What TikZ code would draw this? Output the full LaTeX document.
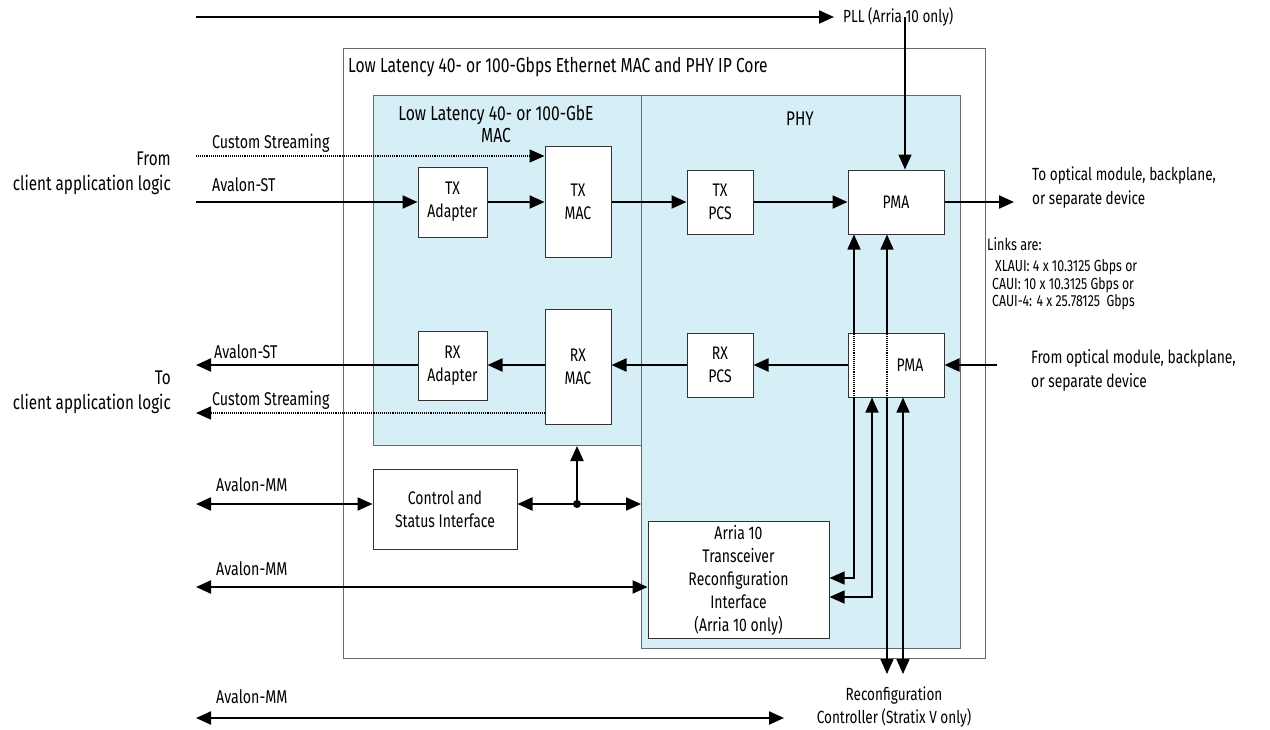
\documentclass[tikz,border=0pt]{standalone}
\usepackage{fontspec}
\setmainfont[FakeStretch=0.77]{Fira Sans}
\usetikzlibrary{arrows.meta,calc}
\definecolor{phyblue}{HTML}{D6EEF5}
\definecolor{edgegray}{HTML}{6A6A6A}
\begin{document}
\begin{tikzpicture}[x=1pt,y=-1pt,
  font=\fontsize{18.2}{23}\selectfont,
  region/.style={draw=edgegray, line width=1pt, inner sep=0pt, anchor=north west},
  box/.style={draw=black!80, line width=1pt, fill=white, inner sep=0pt, align=center},
  lbl/.style={inner sep=0pt},
  sig/.style={inner sep=0pt, anchor=west, font=\fontsize{18.5}{20}\selectfont},
  arr/.style={line width=2.2pt, -{Triangle[length=15pt,width=13pt]}},
  arrboth/.style={line width=2.2pt, {Triangle[length=15pt,width=13pt]}-{Triangle[length=15pt,width=13pt]}},
  tarr/.style={line width=1.5pt, -{Triangle[length=15pt,width=13pt]}},
  tarrboth/.style={line width=1.5pt, {Triangle[length=15pt,width=13pt]}-{Triangle[length=15pt,width=13pt]}},
  dotarr/.style={line width=1.3pt, dash pattern=on 1pt off 0.9pt, -{Triangle[length=15pt,width=13pt]}},
  dotseg/.style={line width=1.2pt, dash pattern=on 1pt off 0.9pt}
]
\useasboundingbox (0,0) rectangle (1270,729);

% regions
\node[region, minimum width=642pt, minimum height=610pt] (outer) at (343,48) {};
\node[region, fill=phyblue, minimum width=319pt, minimum height=553pt] (phyreg) at (641,95) {};
\node[region, fill=phyblue, minimum width=268pt, minimum height=350pt] (macreg) at (373,95) {};

\node[lbl, anchor=west, font=\fontsize{20.3}{22}\selectfont] (title) at (348,67) {Low Latency 40- or 100-Gbps Ethernet MAC and PHY IP Core};
\node[lbl, align=center, font=\fontsize{20.3}{22}\selectfont] (maclbl) at (496,124) {Low Latency 40- or 100-GbE\\MAC};
\node[lbl, font=\fontsize{19.8}{22}\selectfont] (phylbl) at (800,119) {PHY};

% blocks
\node[box, minimum width=69pt, minimum height=70pt] (txad) at (452.5,202) {TX\\Adapter};
\node[box, minimum width=66pt, minimum height=111pt] (txmac) at (578,201.5) {TX\\MAC};
\node[box, minimum width=66pt, minimum height=64pt] (txpcs) at (720,202) {TX\\PCS};
\node[box, minimum width=96pt, minimum height=64pt] (pmat) at (896,202) {PMA};
\node[box, minimum width=69pt, minimum height=69pt] (rxad) at (452.5,365.5) {RX\\Adapter};
\node[box, minimum width=66pt, minimum height=115pt] (rxmac) at (578,366.5) {RX\\MAC};
\node[box, minimum width=66pt, minimum height=64pt] (rxpcs) at (720,365) {RX\\PCS};
\node[box, minimum width=96pt, minimum height=64pt] (pmab) at (896,365) {};
\node[lbl] (pmabtxt) at (910,365) {PMA};
\node[box, minimum width=144pt, minimum height=80pt] (csi) at (445,509) {Control and\\Status Interface};
\node[box, minimum width=181pt, minimum height=117pt] (arria) at (738.5,580) {Arria 10\\Transceiver\\Reconfiguration\\Interface\\(Arria 10 only)};

% outside labels
\node[lbl, anchor=west, font=\fontsize{17.6}{20}\selectfont] (pll) at (843,17) {PLL (Arria 10 only)};
\node[lbl, anchor=east, align=right, font=\fontsize{19.8}{25}\selectfont] (fromcl) at (171,173) {From\\client application logic};
\node[lbl, anchor=east, align=right, font=\fontsize{19.8}{25}\selectfont] (tocl) at (171,392) {To\\client application logic};
\node[lbl, anchor=west, align=left, font=\fontsize{17.6}{24}\selectfont] (toopt) at (1032,188) {To optical module, backplane,\\or separate device};
\node[lbl, anchor=west, align=left, font=\fontsize{18}{24}\selectfont] (fromopt) at (1031,370) {From optical module, backplane,\\or separate device};
\node[lbl, anchor=west, font=\fontsize{16.5}{17}\selectfont] (links) at (987,244) {Links are:};
\node[lbl, anchor=west, align=left, font=\fontsize{16}{17.5}\selectfont] (linkvals) at (992,285) {\hspace{3pt}XLAUI: 4 x 10.3125 Gbps or\\CAUI: 10 x 10.3125 Gbps or\\CAUI-4: 4 x 25.78125\ \ Gbps};
\node[lbl, align=center, font=\fontsize{17.6}{23}\selectfont] (rcfg) at (894,707) {Reconfiguration\\Controller (Stratix V only)};

\node[sig] (lcs1) at (212,143) {Custom Streaming};
\node[sig] (last1) at (212,185) {Avalon-ST};
\node[sig] (last2) at (214,352) {Avalon-ST};
\node[sig] (lcs2) at (212,400) {Custom Streaming};
\node[sig] (lmm1) at (216,485) {Avalon-MM};
\node[sig] (lmm2) at (216,569) {Avalon-MM};
\node[sig] (lmm3) at (216,697) {Avalon-MM};

% free end coordinates
\coordinate (pllstart) at (196,17);
\coordinate (plltip) at (834,17);
\coordinate (pllv) at (905,17);
\coordinate (inCS) at (196,156);
\coordinate (inST) at (196,202);
\coordinate (outTX) at (1014,202);
\coordinate (outST) at (196,365);
\coordinate (inRX) at (997,365);
\coordinate (outCS) at (196,413);
\coordinate (mm1) at (196,504);
\coordinate (mm2) at (196,587);
\coordinate (mm3a) at (196,718);
\coordinate (mm3b) at (784,718);
\coordinate (junc) at (577,504);
\coordinate (xA) at (854,0);
\coordinate (xC) at (872,0);
\coordinate (xB) at (887,0);
\coordinate (xD) at (903,0);
\coordinate (yA) at (0,578);
\coordinate (yC) at (0,597);
\coordinate (yRC) at (0,674);

% connectors
\draw[arr] (pllstart) -- (plltip);
\draw[tarr] (pllv) -- (pllv |- pmat.north);

\draw[dotarr] (inCS) -- (txmac.west |- inCS);
\draw[arr] (inST) -- (txad.west);
\draw[arr] (txad.east) -- (txmac.west |- txad.east);
\draw[arr] (txmac.east |- txad.east) -- (txpcs.west);
\draw[arr] (txpcs.east) -- (pmat.west);
\draw[arr] (pmat.east) -- (outTX);

\draw[arr] (inRX) -- (pmab.east);
\draw[arr] (pmab.west) -- (rxpcs.east);
\draw[arr] (rxpcs.west) -- (rxmac.east |- rxpcs.west);
\draw[arr] (rxmac.west |- rxpcs.west) -- (rxad.east |- rxpcs.west);
\draw[arr] (rxad.west |- rxpcs.west) -- (outST);
\draw[dotarr] (rxmac.west |- outCS) -- (outCS);

\draw[arrboth] (mm1) -- (csi.west |- mm1);
\draw[arrboth] (csi.east |- mm1) -- (phyreg.west |- mm1);
\fill (junc) circle (4pt);
\draw[arr] (junc) -- (junc |- macreg.south);
\draw[arrboth] (mm2) -- (arria.west |- mm2);
\draw[arrboth] (mm3a) -- (mm3b);

% PMA / reconfiguration lines
\draw[tarr] (xA |- pmab.north) -- (xA |- pmat.south);
\draw[dotseg] (xA |- pmab.north) -- (xA |- pmab.south);
\draw[tarr] (xA |- pmab.south) |- (arria.east |- yA);
\draw[tarrboth] (arria.east |- yC) -| (xC |- pmab.south);
\draw[tarr] (xB |- pmab.north) -- (xB |- pmat.south);
\draw[dotseg] (xB |- pmab.north) -- (xB |- pmab.south);
\draw[tarr] (xB |- pmab.south) -- (xB |- yRC);
\draw[tarrboth] (xD |- yRC) -- (xD |- pmab.south);
\end{tikzpicture}
\end{document}
